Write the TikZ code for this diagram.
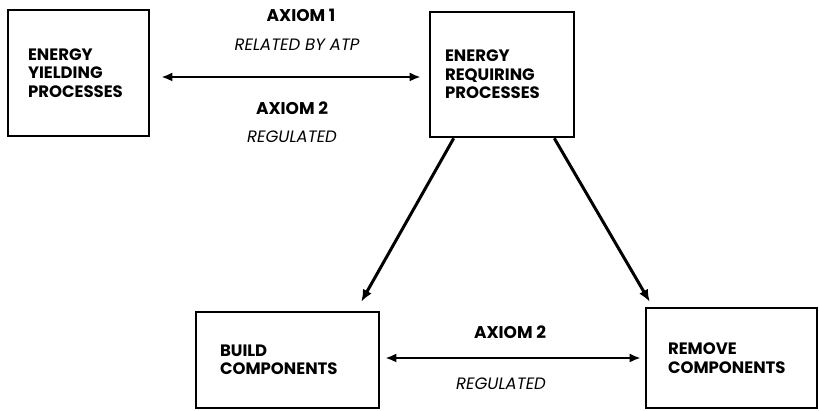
\documentclass[tikz,border=0pt]{standalone}
\usepackage{fontspec}
\setmainfont{Poppins}
\usepackage{tikz}
\usetikzlibrary{arrows.meta,positioning,calc}
\newcommand{\boxfont}{\fontsize{16.5}{18.5}\selectfont\bfseries}
\newcommand{\axfont}{\fontsize{17}{19}\selectfont\bfseries}
\newcommand{\rgfont}{\fontsize{16.5}{19}\selectfont\itshape}
\tikzset{
  box/.style = {rectangle, draw=black, line width=2.6pt, align=left, font=\boxfont, inner sep=0pt},
  fl/.style  = {{Latex[length=11pt,width=9pt]}-{Latex[length=11pt,width=9pt]}, line width=2.6pt},
  dn/.style  = {-{Latex[length=12pt,width=10pt]}, line width=3pt},
  ax/.style  = {font=\axfont, inner sep=0pt},
  rg/.style  = {font=\rgfont, inner sep=0pt},
}
\begin{document}
\begin{tikzpicture}[x=1pt, y=1pt]
\useasboundingbox (0,0) rectangle (819,411);
% boxes
\node[box, minimum width=141pt, minimum height=126pt, text width=101pt] (yld) at (78.5,338) {ENERGY\\YIELDING\\PROCESSES};
\node[box, minimum width=144pt, minimum height=125pt, text width=114pt] (req) at (502,336.5) {ENERGY\\REQUIRING\\PROCESSES};
\node[box, minimum width=183pt, minimum height=96pt, text width=135pt] (bld) at (287.5,51) {BUILD\\COMPONENTS};
\node[box, minimum width=171pt, minimum height=100pt, text width=127pt] (rmv) at (731.5,53) {REMOVE\\COMPONENTS};
% labels
\node[ax] (ax1) at (301,396) {AXIOM 1};
\node[rg] (atp) at (297,366) {RELATED BY ATP};
\node[ax] (ax2) at (292,303) {AXIOM 2};
\node[rg] (reg) at (292,274) {REGULATED};
\node[ax] (ax3) at (510,79) {AXIOM 2};
\node[rg] (reg2) at (501,27) {REGULATED};
% edges
\draw[fl, shorten <=11pt, shorten >=8pt] ([yshift=-4pt]yld.east) -- ([yshift=-4pt]yld.east -| req.west);
\draw[fl, shorten <=5pt, shorten >=4pt] (rmv.west -| bld.east) -- (rmv.west);
\draw[dn] ([xshift=25pt]req.south west) -- ($(bld.north east)+(-19,9)$);
\draw[dn] ([xshift=-21pt]req.south east) -- ($(rmv.north west)+(5,5)$);
\end{tikzpicture}
\end{document}
